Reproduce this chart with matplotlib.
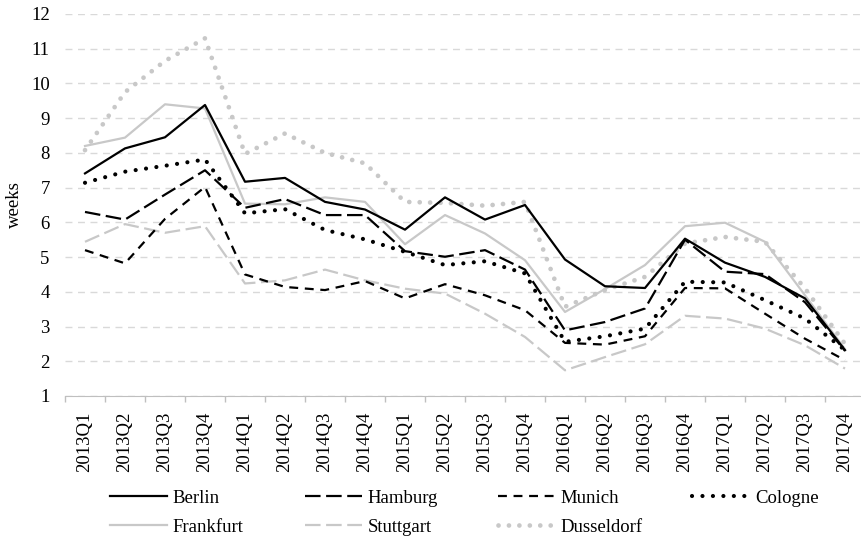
import matplotlib
matplotlib.use("Agg")
import matplotlib.pyplot as plt
import numpy as np

plt.rcParams['font.family'] = ['Liberation Serif', 'DejaVu Serif']
plt.rcParams['font.size'] = 13.5

quarters = ["2013Q1", "2013Q2", "2013Q3", "2013Q4",
            "2014Q1", "2014Q2", "2014Q3", "2014Q4",
            "2015Q1", "2015Q2", "2015Q3", "2015Q4",
            "2016Q1", "2016Q2", "2016Q3", "2016Q4",
            "2017Q1", "2017Q2", "2017Q3", "2017Q4"]

berlin = [7.41, 8.13, 8.45, 9.38, 7.17, 7.28, 6.59, 6.37, 5.79, 6.72,
          6.08, 6.50, 4.93, 4.16, 4.11, 5.53, 4.84, 4.43, 3.81, 2.32]
hamburg = [6.30, 6.08, 6.80, 7.50, 6.42, 6.67, 6.21, 6.21, 5.17, 5.01,
           5.20, 4.64, 2.89, 3.13, 3.52, 5.50, 4.58, 4.51, 3.70, 2.30]
munich = [5.20, 4.82, 6.10, 7.02, 4.50, 4.14, 4.05, 4.31, 3.81, 4.22,
          3.90, 3.47, 2.53, 2.48, 2.72, 4.11, 4.10, 3.37, 2.65, 2.03]
cologne = [7.14, 7.46, 7.63, 7.81, 6.26, 6.38, 5.78, 5.51, 5.15, 4.77,
           4.88, 4.53, 2.56, 2.72, 2.94, 4.29, 4.27, 3.76, 3.23, 2.32]
frankfurt = [8.20, 8.44, 9.40, 9.28, 6.54, 6.52, 6.72, 6.59, 5.37, 6.21,
             5.68, 4.91, 3.42, 4.08, 4.77, 5.89, 5.99, 5.44, 3.90, 2.35]
stuttgart = [5.44, 5.95, 5.70, 5.89, 4.24, 4.33, 4.64, 4.33, 4.09, 3.95,
             3.37, 2.70, 1.74, 2.12, 2.49, 3.31, 3.23, 2.94, 2.46, 1.79]
dusseldorf = [8.08, 9.75, 10.65, 11.30, 7.97, 8.56, 8.00, 7.70, 6.59, 6.56,
              6.48, 6.59, 3.57, 4.05, 4.43, 5.39, 5.58, 5.44, 4.10, 2.50]

black = "black"
gray = "#c8c8c8"

series = [
    ("Berlin", berlin, dict(color=black, lw=1.6, ls="-")),
    ("Hamburg", hamburg, dict(color=black, lw=1.6, ls=(0, (7, 2.5)))),
    ("Munich", munich, dict(color=black, lw=1.6, ls=(0, (4, 3)))),
    ("Cologne", cologne, dict(color=black, lw=3.0, ls=(0, (0.01, 2.5)), dash_capstyle="round")),
    ("Frankfurt", frankfurt, dict(color=gray, lw=1.6, ls="-")),
    ("Stuttgart", stuttgart, dict(color=gray, lw=1.6, ls=(0, (7, 2.5)))),
    ("Dusseldorf", dusseldorf, dict(color=gray, lw=3.4, ls=(0, (0.01, 2.2)), dash_capstyle="round")),
]

fig = plt.figure(figsize=(8.62, 5.42), dpi=100)
ax = fig.add_axes([65 / 862, (542 - 396) / 542, 800 / 862, 382 / 542])

x = np.arange(len(quarters))
lines = {}
# gray series first so the black ones sit on top
for name, vals, style in series[4:] + series[:4]:
    ln, = ax.plot(x, vals, label=name, **style)
    lines[name] = ln

ax.set_xlim(-0.5, len(quarters) - 0.5)
ax.set_ylim(1, 12)
ax.set_yticks(range(1, 13))
ax.yaxis.grid(True, color="#d9d9d9", lw=1, ls=(0, (5, 4)))
ax.set_axisbelow(True)

ax.set_xticks(x)
ax.set_xticklabels(quarters, rotation=90)
ax.set_xticks(np.arange(-0.5, len(quarters), 1), minor=True)
ax.tick_params(axis="x", which="major", length=0, pad=11)
ax.tick_params(axis="x", which="minor", length=4, color="#bfbfbf", width=1)
ax.tick_params(axis="y", length=0, pad=11)

for s in ["left", "right", "top"]:
    ax.spines[s].set_visible(False)
ax.spines["bottom"].set_color("#bfbfbf")

ax.set_ylabel("weeks", labelpad=6)

# legend in equal-width columns like the original
cols = [110, 305, 498, 692]
rows = [498, 527]
order = ["Berlin", "Hamburg", "Munich", "Cologne", "Frankfurt", "Stuttgart", "Dusseldorf"]
for i, name in enumerate(order):
    cx = cols[i % 4]
    cy = rows[i // 4]
    fig.legend(handles=[lines[name]], loc="center left",
               bbox_to_anchor=(cx / 862, 1 - cy / 542), frameon=False,
               borderpad=0, borderaxespad=0, handlelength=3.05, handletextpad=0.3)

fig.savefig("out.png", dpi=100)
